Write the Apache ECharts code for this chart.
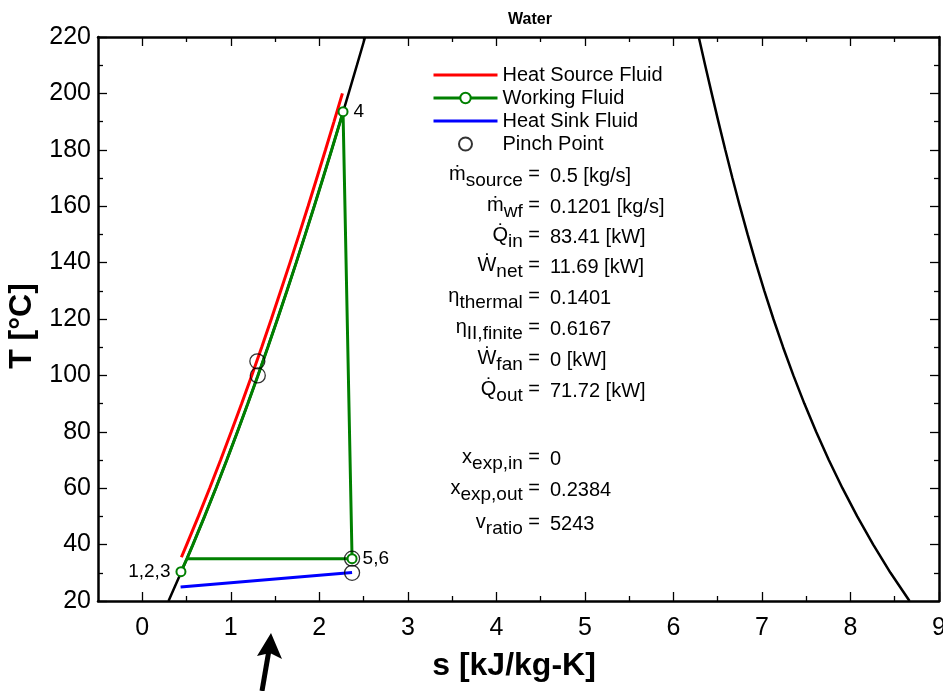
<!DOCTYPE html>
<html><head><meta charset="utf-8">
<script src="https://cdn.jsdelivr.net/npm/echarts@6/dist/echarts.min.js"></script>
<style>html,body{margin:0;padding:0;background:#fff}#c{width:943px;height:691px}</style>
</head><body><div id="c"></div>
<script>
// ---------- data ----------
const satT    = [20,30,40,50,60,70,80,90,100,110,120,130,140,150,160,170,180,190,200,210,220];
const satLiqS = [0.2966,0.4369,0.5724,0.7038,0.8312,0.9549,1.0753,1.1925,1.3069,1.4185,1.5276,1.6344,1.7391,1.8418,1.9427,2.0419,2.1396,2.2359,2.3309,2.4248,2.5178];
const satVapS = [8.6672,8.4520,8.2570,8.0763,7.9096,7.7553,7.6122,7.4791,7.3549,7.2387,7.1296,7.0269,6.9299,6.8379,6.7502,6.6663,6.5857,6.5079,6.4323,6.3585,6.2861];

const sourceT = [35.5,40,50,60,70,80,90,100,110,120,130,140,150,160,170,180,190,200];
const sourceS = [0.442,0.502,0.634,0.761,0.885,1.005,1.123,1.237,1.349,1.458,1.564,1.669,1.772,1.873,1.972,2.070,2.166,2.261];

const wfS = [0.437,0.505,0.5724,0.7038,0.8312,0.9549,1.0753,1.1925,1.3069,1.4185,1.5276,1.6344,1.7391,1.8418,1.9427,2.0419,2.1396,2.2359,2.268,2.370,0.505,0.437];
const wfT = [30.4,35,40,50,60,70,80,90,100,110,120,130,140,150,160,170,180,190,193.5,35,35,30.4];
const wfLabel = ['1,2,3','','','','','','','','','','','','','','','','','','4','5,6','',''];

const sinkS = [0.433,2.37];
const sinkT = [25.0,30.1];

const pinchS = [1.30,1.305,2.37,2.37];
const pinchT = [105,100,35,30];

const xMajor = [0,1,2,3,4,5,6,7,8,9];
const xMinor = [0.5,1.5,2.5,3.5,4.5,5.5,6.5,7.5,8.5];

const seriesNames = ['Heat Source Fluid','Working Fluid','Heat Sink Fluid','Pinch Point'];

const annSym   = ['ṁ','ṁ','Q̇','Ẇ','η','η','Ẇ','Q̇','x','x','v'];
const annSub   = ['source','wf','in','net','thermal','II,finite','fan','out','exp,in','exp,out','ratio'];
const annValue = ['0.5 [kg/s]','0.1201 [kg/s]','83.41 [kW]','11.69 [kW]','0.1401','0.6167','0 [kW]','71.72 [kW]','0','0.2384','5243'];

// ---------- layout ----------
const F = '"Liberation Sans", Arial, Helvetica, sans-serif';
const annY = [176,207,237,267,298,329,360,391,459,490,524];
const eqRight = 540, valLeft = 550;

const zip = (a,b) => a.map((v,i)=>[v,b[i]]);
const chart = echarts.init(document.getElementById('c'), null, {renderer:'canvas'});

const axLine = {show:true, onZero:false, lineStyle:{color:'#000', width:2.5}};
const tickStyle = {color:'#000', width:1.3};

function xAx(pos, major, labels, extra){
  return Object.assign({
    type:'value', position:pos, min:-0.5, max:9, gridIndex:0,
    axisLine: major ? axLine : {show:false, onZero:false},
    axisTick:{show:true, inside:true, length: major?9:5, customValues: major?xMajor:xMinor, lineStyle:tickStyle},
    axisLabel: labels ? {show:true, customValues:xMajor, fontSize:25, color:'#000', fontFamily:F, margin:15} : {show:false},
    splitLine:{show:false}, minorTick:{show:false}
  }, extra||{});
}
function yAx(pos, labels, extra){
  return Object.assign({
    type:'value', position:pos, min:20, max:220, interval:20,
    axisLine: axLine,
    axisTick:{show:true, inside:true, length:9, lineStyle:tickStyle},
    minorTick:{show:true, splitNumber:2, length:5, lineStyle:tickStyle},
    axisLabel: labels ? {show:true, fontSize:25, color:'#000', fontFamily:F, margin:7} : {show:false},
    splitLine:{show:false}, minorSplitLine:{show:false}
  }, extra||{});
}

const graphics = [];
const richBase = {
  m:{fontSize:20, fontFamily:F, fill:'#000', lineHeight:24, verticalAlign:'top'},
  s:{fontSize:19, fontFamily:F, fill:'#000', lineHeight:24, verticalAlign:'top', padding:[7,0,0,0]}
};
annSym.forEach((sym,i)=>{
  graphics.push({type:'text', x:eqRight, y:annY[i]-12, style:{
    text:'{m|'+sym+'}{s|'+annSub[i]+'}{m| =}', rich:richBase,
    align:'right', verticalAlign:'top', font:'20px '+F, fill:'#000'}});
  graphics.push({type:'text', x:valLeft, y:annY[i], style:{
    text:annValue[i], align:'left', verticalAlign:'middle', font:'20px '+F, fill:'#000'}});
});
// axis titles
graphics.push({type:'text', x:22, y:326, rotation:Math.PI/2, style:{
  text:'T [°C]', align:'center', verticalAlign:'middle', font:'bold 32px '+F, fill:'#000'}});
graphics.push({type:'text', x:514, y:666, style:{
  text:'s [kJ/kg-K]', align:'center', verticalAlign:'middle', font:'bold 32px '+F, fill:'#000'}});
// arrow annotation
graphics.push({type:'polygon', shape:{points:[[271,633],[282,659],[270,653],[257,656]]}, style:{fill:'#000'}});
graphics.push({type:'line', shape:{x1:269,y1:650,x2:262,y2:691}, style:{stroke:'#000', lineWidth:5}});

const option = {
  animation:false,
  backgroundColor:'#fff',
  title:{text:'Water', left:503, top:7, textStyle:{fontSize:16, fontWeight:'bold', color:'#000', fontFamily:F}},
  grid:{left:98, right:4, top:37, bottom:90, containLabel:false, outerBoundsMode:'none'},
  legend:{
    orient:'vertical', left:427, top:60, itemWidth:64, itemHeight:13, itemGap:3,
    selectedMode:false,
    lineStyle:{width:3},
    data:[
      {name:seriesNames[0], itemStyle:{opacity:0}},
      {name:seriesNames[1]},
      {name:seriesNames[2], itemStyle:{opacity:0}},
      {name:seriesNames[3]}
    ],
    textStyle:{fontSize:20, color:'#000', fontFamily:F, lineHeight:20}
  },
  xAxis:[
    xAx('bottom', true, true),
    xAx('bottom', false, false),
    xAx('top', true, false),
    xAx('top', false, false)
  ],
  yAxis:[
    yAx('left', true),
    yAx('right', false)
  ],
  series:[
    {name:'satL', type:'line', data:zip(satLiqS,satT), symbol:'none', lineStyle:{color:'#000', width:2.5}, itemStyle:{color:'#000'}, z:1},
    {name:'satR', type:'line', data:zip(satVapS,satT), symbol:'none', lineStyle:{color:'#000', width:2.5}, itemStyle:{color:'#000'}, z:1},
    {name:'Heat Source Fluid', type:'line', data:zip(sourceS,sourceT), symbol:'none', lineStyle:{color:'#ff0000', width:3}, itemStyle:{color:'#ff0000'}, z:2},
    {name:'Working Fluid', type:'line', showAllSymbol:true, symbol:'emptyCircle', symbolSize:9,
      lineStyle:{color:'#008000', width:3}, itemStyle:{color:'#008000', borderWidth:1.5}, z:3,
      data: wfS.map((s,i)=>({
        value:[s,wfT[i]],
        symbol: wfLabel[i] ? 'emptyCircle' : 'none',
        label: wfLabel[i] ? {show:true, formatter:wfLabel[i], position: wfLabel[i]==='1,2,3'?'left':'right',
          distance:5, fontSize:19, color:'#000', fontFamily:F} : {show:false}
      }))},
    {name:'Heat Sink Fluid', type:'line', data:zip(sinkS,sinkT), symbol:'none', lineStyle:{color:'#0000ff', width:3}, itemStyle:{color:'#0000ff'}, z:2},
    {name:'Pinch Point', type:'scatter', data:zip(pinchS,pinchT), symbol:'circle', symbolSize:15,
      itemStyle:{color:'rgba(0,0,0,0)', borderColor:'#000', borderWidth:1.3}, z:4}
  ],
  graphic:graphics
};
chart.setOption(option);
</script>
</body></html>
